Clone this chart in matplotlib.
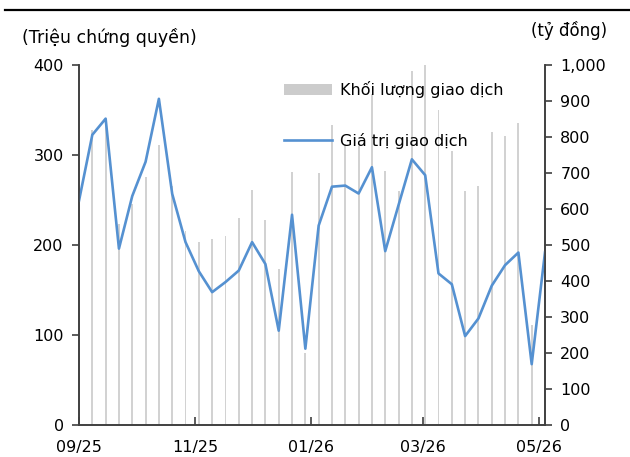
import numpy as np
import pandas as pd
import matplotlib
matplotlib.use("Agg")
import matplotlib.pyplot as plt
from matplotlib.lines import Line2D
from matplotlib.patches import Patch
from matplotlib.ticker import FuncFormatter

plt.rcParams['font.family'] = ['DejaVu Sans']

# weekly data
dates = pd.date_range("2025-09-12", periods=36, freq="7D")

# Khối lượng giao dịch (triệu chứng quyền)
volume = [250, 328, 340, 223, 245, 276, 311, 265, 215, 203, 207, 210,
          230, 261, 228, 173, 281, 80, 280, 333, 312, 310, 368, 282,
          260, 393, 400, 350, 304, 260, 266, 326, 321, 335, 111, 210]

# Giá trị giao dịch (tỷ đồng)
value = [623, 806, 851, 490, 636, 731, 906, 642, 508, 427, 369, 397,
         429, 508, 447, 262, 584, 212, 554, 662, 665, 643, 716, 483,
         611, 738, 694, 421, 391, 247, 296, 387, 444, 479, 169, 480]

tick_dates = pd.to_datetime(["2025-09-12", "2025-11-12", "2026-01-12",
                             "2026-03-12", "2026-05-12"])
tick_labels = ["09/25", "11/25", "01/26", "03/26", "05/26"]

bar_color = "#d2d2d2"
line_color = "#5591d1"
spine_color = "#404040"

fig = plt.figure(figsize=(6.3, 4.57), dpi=100)
ax = fig.add_axes([0.1254, 0.070, 0.7397, 0.7878])
ax2 = ax.twinx()

ax.bar(dates, volume, width=1.0, color=bar_color, linewidth=0)
ax2.plot(dates, value, color=line_color, linewidth=1.9)

ax.set_xlim(dates[0], dates[-1])
ax.set_ylim(0, 400)
ax.set_yticks(np.arange(0, 401, 100))
ax2.set_ylim(0, 1000)
ax2.set_yticks(np.arange(0, 1001, 100))
ax2.yaxis.set_major_formatter(FuncFormatter(lambda v, p: f"{int(v):,}"))

ax.set_xticks(tick_dates)
ax.set_xticklabels(tick_labels)

for a in (ax, ax2):
    a.spines['top'].set_visible(False)
    for s in ('left', 'right', 'bottom'):
        a.spines[s].set_color(spine_color)
        a.spines[s].set_linewidth(1.2)
    a.tick_params(axis='y', direction='out', length=5, width=1.2,
                  color=spine_color, labelsize=11.5, pad=6)
ax.tick_params(axis='x', direction='in', length=6, width=1.2,
               color=spine_color, labelsize=11.5, pad=11)

fig.text(0.035, 0.918, "(Triệu chứng quyền)", fontsize=12.5, va='center', ha='left')
fig.text(0.963, 0.934, "(tỷ đồng)", fontsize=12, va='center', ha='right')

handles = [Patch(facecolor="#cccccc", edgecolor='none'),
           Line2D([0], [0], color=line_color, linewidth=1.9)]
ax2.legend(handles, ["Khối lượng giao dịch", "Giá trị giao dịch"],
           loc='upper left', bbox_to_anchor=(0.41, 0.995), frameon=False,
           fontsize=11.5, handlelength=3.0, handleheight=0.6,
           handletextpad=0.45, labelspacing=2.15)

fig.add_artist(Line2D([0.008, 1.0], [0.978, 0.978], color='black',
                      linewidth=1.6, transform=fig.transFigure))

fig.savefig("out.png", dpi=100)
